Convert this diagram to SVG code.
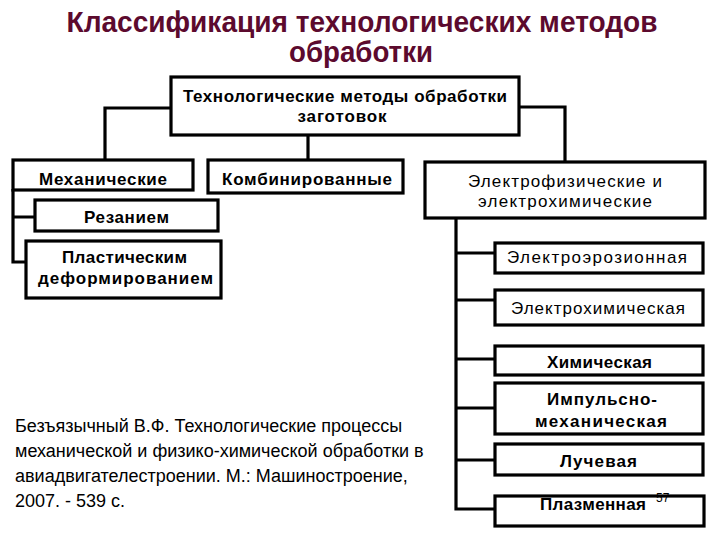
<svg xmlns="http://www.w3.org/2000/svg" width="720" height="540" viewBox="0 0 720 540">
<style>
.box{fill:#fff;stroke:#000;stroke-width:3.2}
.t{font-family:"Liberation Sans",Arial,sans-serif;font-size:17px;text-anchor:middle;fill:#000}
.b{font-weight:bold}
.title{font-family:"Liberation Sans",Arial,sans-serif;font-size:30px;font-weight:bold;fill:#5c0a2e;text-anchor:middle}
.c{fill:none;stroke:#000;stroke-width:3.2}
.cite{font-family:"Liberation Sans",Arial,sans-serif;font-size:18px;fill:#000}
</style>
<rect width="720" height="540" fill="#fff"/>
<g id="title">
<text class="title" x="362" y="32" textLength="591" lengthAdjust="spacingAndGlyphs">Классификация технологических методов</text>
<text class="title" x="361" y="62" textLength="144" lengthAdjust="spacingAndGlyphs">обработки</text>
</g>
<g id="connectors">
<path class="c" d="M171 108 H105 V161"/>
<path class="c" d="M308 135 V161"/>
<path class="c" d="M519 107 H565 V162"/>
<path class="c" d="M13 189 V262 H26 M13 217 H35"/>
<path class="c" d="M456 218 V509 H495 M456 253 H495 M456 300 H495 M456 359 H495 M456 408 H495 M456 460 H495"/>
</g>
<g id="root">
<rect class="box" x="171" y="77" width="348" height="58"/>
<text class="t b" x="345" y="102" textLength="324">Технологические методы обработки</text>
<text class="t b" x="342" y="122" textLength="89">заготовок</text>
</g>
<g id="mech">
<rect class="box" x="13" y="160" width="180" height="30"/>
<text class="t b" x="103" y="185" textLength="128">Механические</text>
</g>
<g id="comb">
<rect class="box" x="208" y="160" width="195" height="33"/>
<text class="t b" x="307" y="185" textLength="170">Комбинированные</text>
</g>
<g id="rez">
<rect class="box" x="35" y="200" width="183" height="31"/>
<text class="t b" x="126.5" y="223" textLength="85">Резанием</text>
</g>
<g id="plast">
<rect class="box" x="26" y="241" width="195" height="57"/>
<text class="t b" x="124.5" y="263" textLength="125">Пластическим</text>
<text class="t b" x="125.5" y="284" textLength="175">деформированием</text>
</g>
<g id="elphys">
<rect class="box" x="425" y="162" width="280" height="56"/>
<text class="t" x="565" y="187" textLength="194">Электрофизические и</text>
<text class="t" x="565" y="207" textLength="174">электрохимические</text>
</g>
<g id="eroz">
<rect class="box" x="495" y="243" width="208" height="30"/>
<text class="t" x="597" y="263" textLength="180">Электроэрозионная</text>
</g>
<g id="elchem">
<rect class="box" x="495" y="290" width="208" height="35"/>
<text class="t" x="598" y="314" textLength="174">Электрохимическая</text>
</g>
<g id="chem">
<rect class="box" x="495" y="346" width="208" height="29"/>
<text class="t b" x="599.5" y="368" textLength="105">Химическая</text>
</g>
<g id="imp">
<rect class="box" x="495" y="383" width="208" height="51"/>
<text class="t b" x="602" y="405" textLength="110">Импульсно-</text>
<text class="t b" x="601" y="427" textLength="132">механическая</text>
</g>
<g id="luch">
<rect class="box" x="495" y="444" width="208" height="31"/>
<text class="t b" x="598.5" y="467" textLength="77">Лучевая</text>
</g>
<g id="plazma">
<rect class="box" x="495" y="496" width="209" height="30"/>
<text class="t b" x="593" y="510" textLength="106">Плазменная</text>
<text x="656" y="502" style="font-family:'Liberation Sans',Arial,sans-serif;font-size:12px;fill:#000">57</text>
</g>
<g id="citation">
<text class="cite" x="15" y="432">Безъязычный В.Ф. Технологические процессы</text>
<text class="cite" x="15" y="457">механической и физико-химической обработки в</text>
<text class="cite" x="15" y="482">авиадвигателестроении. М.: Машиностроение,</text>
<text class="cite" x="15" y="507">2007. - 539 с.</text>
</g>
</svg>
